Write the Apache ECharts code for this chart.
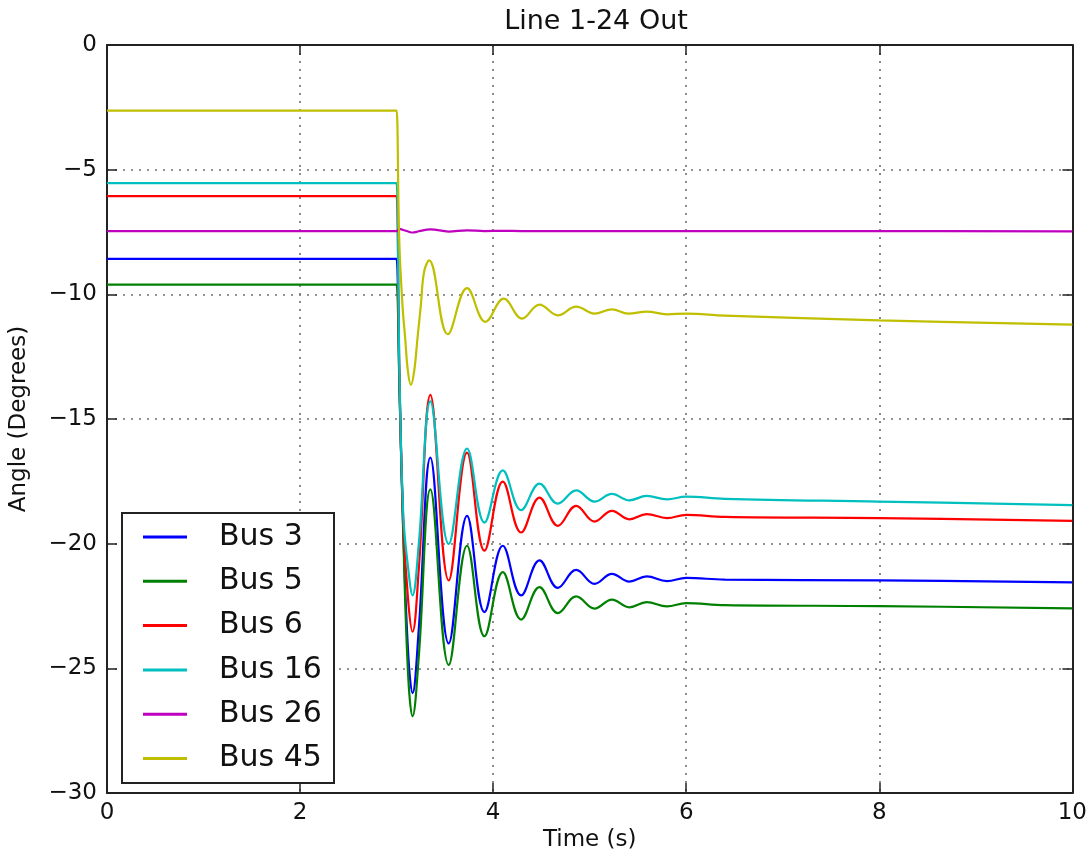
<!DOCTYPE html>
<html>
<head>
<meta charset="utf-8">
<script src="https://cdn.jsdelivr.net/npm/echarts@6/dist/echarts.min.js"></script>
<style>
html,body{margin:0;padding:0;background:#fff;}
#chart{width:1090px;height:857px;}
</style>
</head>
<body>
<div id="chart"></div>
<script>
const times = [0, 2.99, 3.0, 3.03, 3.07, 3.12, 3.165, 3.23, 3.35, 3.54, 3.73, 3.91, 4.10, 4.29, 4.48, 4.67, 4.86, 5.05, 5.23, 5.41, 5.59, 5.80, 6.0, 6.4, 8.0, 10.0];
// Bus 45 was read on its own, denser set of time points
const bus45Times = [0, 2.99, 3.0, 3.027, 3.061, 3.089, 3.117, 3.148, 3.182, 3.216, 3.251, 3.285, 3.337, 3.53, 3.73, 3.92, 4.11, 4.30, 4.48, 4.67, 4.86, 5.05, 5.23, 5.40, 5.59, 5.80, 6.0, 6.4, 8.0, 10.0];

const bus3  = [-8.58, -8.58, -8.58, -13.7, -19.6, -24.4, -25.99, -23.4, -16.55, -24.0, -18.88, -22.74, -20.08, -22.07, -20.67, -21.77, -21.05, -21.61, -21.21, -21.52, -21.31, -21.50, -21.37, -21.44, -21.47, -21.55];
const bus5  = [-9.61, -9.61, -9.61, -13.9, -19.8, -25.3, -26.92, -24.5, -17.82, -24.86, -20.08, -23.71, -21.14, -23.04, -21.74, -22.78, -22.11, -22.60, -22.24, -22.55, -22.34, -22.51, -22.38, -22.46, -22.50, -22.59];
const bus6  = [-6.06, -6.06, -6.06, -13.4, -19.2, -22.3, -23.53, -21.0, -14.03, -21.47, -16.35, -20.28, -17.51, -19.55, -18.15, -19.28, -18.48, -19.11, -18.68, -19.02, -18.81, -18.97, -18.84, -18.92, -18.97, -19.08];
const bus16 = [-5.54, -5.54, -5.54, -13.2, -18.9, -21.0, -22.07, -20.0, -14.29, -20.01, -16.18, -19.15, -17.06, -18.65, -17.59, -18.39, -17.86, -18.31, -18.00, -18.26, -18.08, -18.22, -18.11, -18.20, -18.31, -18.45];
const bus26 = [-7.46, -7.46, -7.46, -7.37, -7.42, -7.48, -7.52, -7.47, -7.39, -7.48, -7.43, -7.46, -7.45, -7.46, -7.46, -7.46, -7.46, -7.46, -7.46, -7.46, -7.46, -7.46, -7.46, -7.46, -7.46, -7.47];
const bus45 = [-2.63, -2.63, -2.63, -7.78, -10.44, -11.77, -13.08, -13.63, -13.08, -11.77, -10.44, -9.09, -8.64, -11.6, -9.75, -11.1, -10.17, -10.97, -10.41, -10.84, -10.49, -10.77, -10.60, -10.77, -10.69, -10.80, -10.77, -10.85, -11.04, -11.21];

const seriesNames = ['Bus 3', 'Bus 5', 'Bus 6', 'Bus 16', 'Bus 26', 'Bus 45'];
const seriesTimes = [times, times, times, times, times, bus45Times];
const seriesValues = [bus3, bus5, bus6, bus16, bus26, bus45];
const seriesColors = ['#0000ff', '#008000', '#ff0000', '#00bfbf', '#bf00bf', '#bfbf00'];

const xTicks = {min: 0, max: 10, interval: 2};
const yTicks = {min: -30, max: 0, interval: 5};

const titleText = 'Line 1-24 Out';
const xName = 'Time (s)';
const yName = 'Angle (Degrees)';

const FONT = 'DejaVu Sans';
const fmtNum = v => (v < 0 ? '\u2212' + Math.abs(v) : String(v));

const chart = echarts.init(document.getElementById('chart'), null, {renderer: 'canvas'});

const gridLine = () => ({show: true, lineStyle: {color: '#707070', type: [2, 6], width: 1.6}});
const axisLineStyle = () => ({show: true, onZero: false, lineStyle: {color: '#222', width: 2}});
const tickIn = () => ({show: true, inside: true, length: 10, lineStyle: {color: '#222', width: 1.5}});

const option = {
  animation: false,
  backgroundColor: '#fff',
  title: {
    text: titleText,
    left: 591,
    top: 3,
    textAlign: 'center',
    textStyle: {fontFamily: FONT, fontSize: 27, fontWeight: 'normal', color: '#111'}
  },
  grid: {left: 107, top: 45, width: 968, height: 752, containLabel: false},
  xAxis: [
    {
      type: 'value', min: xTicks.min, max: xTicks.max, interval: xTicks.interval,
      position: 'bottom',
      name: xName, nameLocation: 'middle', nameGap: 35,
      nameTextStyle: {fontFamily: FONT, fontSize: 23, color: '#111'},
      axisLine: axisLineStyle(), axisTick: tickIn(),
      axisLabel: {fontFamily: FONT, fontSize: 23, color: '#111', margin: 8},
      splitLine: gridLine()
    },
    {
      type: 'value', min: xTicks.min, max: xTicks.max, interval: xTicks.interval,
      position: 'top',
      axisLine: axisLineStyle(), axisTick: tickIn(),
      axisLabel: {show: false}, splitLine: {show: false}
    }
  ],
  yAxis: [
    {
      type: 'value', min: yTicks.min, max: yTicks.max, interval: yTicks.interval,
      position: 'left',
      name: yName, nameLocation: 'middle', nameGap: 76,
      nameTextStyle: {fontFamily: FONT, fontSize: 23, color: '#111'},
      axisLine: axisLineStyle(), axisTick: tickIn(),
      axisLabel: {fontFamily: FONT, fontSize: 23, color: '#111', margin: 10, formatter: fmtNum},
      splitLine: gridLine()
    },
    {
      type: 'value', min: yTicks.min, max: yTicks.max, interval: yTicks.interval,
      position: 'right',
      axisLine: axisLineStyle(), axisTick: tickIn(),
      axisLabel: {show: false}, splitLine: {show: false}
    }
  ],
  legend: {
    orient: 'vertical',
    left: 143,
    top: 522,
    padding: 0,
    z: 20,
    itemWidth: 44,
    itemHeight: 3,
    itemGap: 14.3,
    icon: 'rect',
    data: seriesNames,
    textStyle: {fontFamily: FONT, fontSize: 30, color: '#111', lineHeight: 30, padding: [0, 0, 0, 27]}
  },
  graphic: [
    {
      type: 'rect', z: 15, zlevel: 0,
      shape: {x: 122, y: 513, width: 212, height: 270},
      style: {fill: '#fff', stroke: '#222', lineWidth: 2}
    }
  ],
  series: seriesNames.map((name, i) => ({
    name: name,
    type: 'line',
    xAxisIndex: 0,
    yAxisIndex: 0,
    data: seriesTimes[i].map((t, j) => [t, seriesValues[i][j]]),
    showSymbol: false,
    symbol: 'none',
    smooth: 0.4,
    color: seriesColors[i],
    lineStyle: {color: seriesColors[i], width: 2.2},
    z: 2
  }))
};

chart.setOption(option);
</script>
</body>
</html>
